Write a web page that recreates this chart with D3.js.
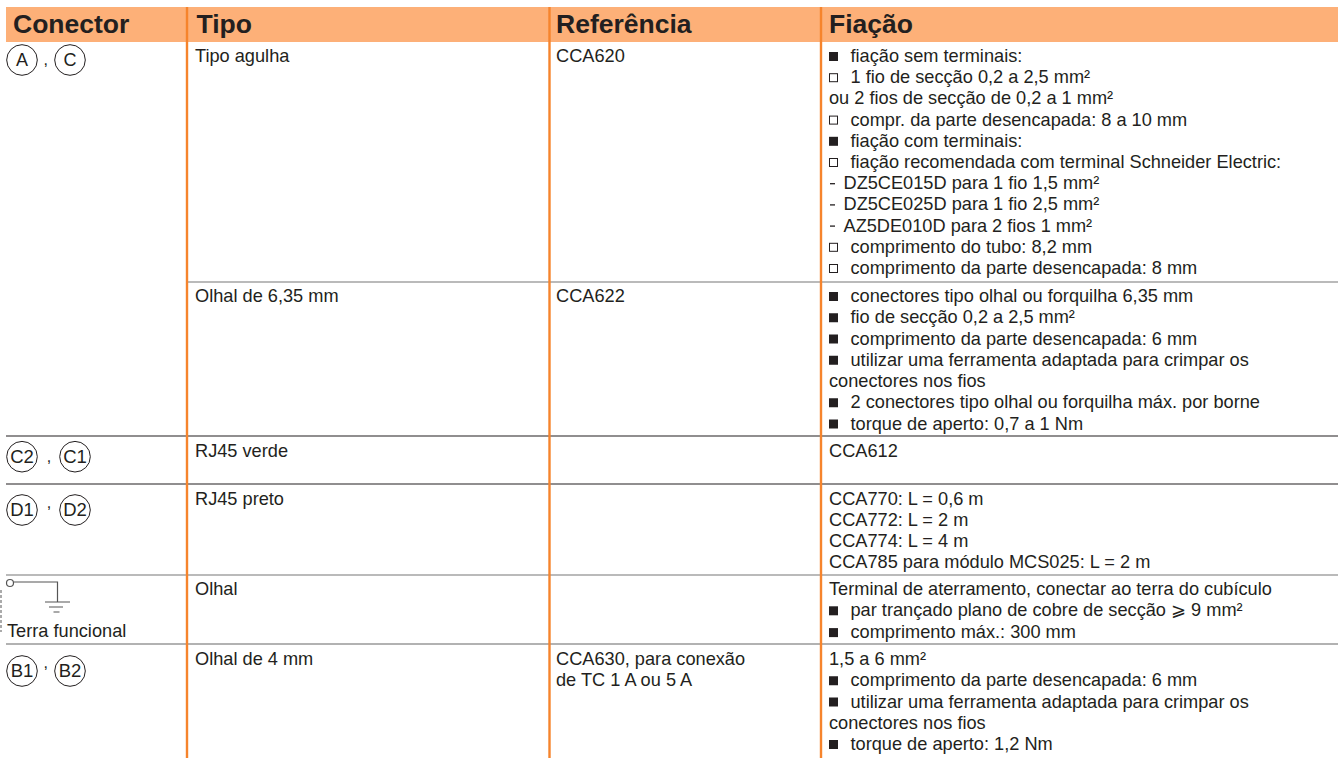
<!DOCTYPE html>
<html><head><meta charset="utf-8">
<script src="https://cdnjs.cloudflare.com/ajax/libs/d3/7.8.5/d3.min.js"></script>
<style>html,body{margin:0;padding:0;background:#fff;overflow:hidden}svg{display:block}text{font-family:"Liberation Sans",Arial,sans-serif;fill:#231f20}</style>
</head><body><svg id="c" width="1338" height="758"></svg>
<script>
const headers=["Conector","Tipo","Referência","Fiação"];
const connectors=[["A","C"],["C2","C1"],["D1","D2"],["B1","B2"]];
const groundLabel="Terra funcional";
const tipo=["Tipo agulha","Olhal de 6,35 mm","RJ45 verde","RJ45 preto","Olhal","Olhal de 4 mm"];
const referencia=[["CCA620"],["CCA622"],[],[],[],["CCA630, para conexão","de TC 1 A ou 5 A"]];
const fiacao=[
["■ fiação sem terminais:","□ 1 fio de secção 0,2 a 2,5 mm²","ou 2 fios de secção de 0,2 a 1 mm²","□ compr. da parte desencapada: 8 a 10 mm","■ fiação com terminais:","□ fiação recomendada com terminal Schneider Electric:","- DZ5CE015D para 1 fio 1,5 mm²","- DZ5CE025D para 1 fio 2,5 mm²","- AZ5DE010D para 2 fios 1 mm²","□ comprimento do tubo: 8,2 mm","□ comprimento da parte desencapada: 8 mm"],
["■ conectores tipo olhal ou forquilha 6,35 mm","■ fio de secção 0,2 a 2,5 mm²","■ comprimento da parte desencapada: 6 mm","■ utilizar uma ferramenta adaptada para crimpar os","conectores nos fios","■ 2 conectores tipo olhal ou forquilha máx. por borne","■ torque de aperto: 0,7 a 1 Nm"],
["CCA612"],
["CCA770: L = 0,6 m","CCA772: L = 2 m","CCA774: L = 4 m","CCA785 para módulo MCS025: L = 2 m"],
["Terminal de aterramento, conectar ao terra do cubículo","■ par trançado plano de cobre de secção ⩾ 9 mm²","■ comprimento máx.: 300 mm"],
["1,5 a 6 mm²","■ comprimento da parte desencapada: 6 mm","■ utilizar uma ferramenta adaptada para crimpar os","conectores nos fios","■ torque de aperto: 1,2 Nm"]];

// layout
const ink="#231f20", orange="#f6842c", FS=18.2;
const colX=d3.scaleOrdinal().domain([0,1,2,3]).range([6,195,556,829]);
const firstBase=[62,302,457,505,594.5,665], pitch=[21.2,21.25,21,20.9,21.8,21.25];
const rowY=(r,i)=>firstBase[r]+i*pitch[r];
const rules=[{y:282,x:188,c:"#777"},{y:436,x:6,c:ink},{y:484,x:6,c:ink},{y:575,x:6,c:"#777"},{y:644,x:6,c:"#666"}];
const conLayout=[{cy:60,x:[22,70],cm:45.7,cmy:65},{cy:456.7,x:[22,75],cm:49,cmy:462},{cy:510,x:[22,75],cm:49,cmy:508},{cy:671,x:[22,70],cm:45.7,cmy:668}];

const svg=d3.select("#c");
svg.append("rect").attr("x",6).attr("y",7).attr("width",1332).attr("height",35).attr("fill","#fdb078");
svg.selectAll(".h").data(headers).join("text").attr("class","h")
 .attr("x",(d,i)=>i==0?13:i==1?196.5:colX(i)).attr("y",33).attr("font-size",26.5).attr("font-weight","bold").text(d=>d);
svg.selectAll(".r").data(rules).join("line").attr("class","r")
 .attr("x1",d=>d.x).attr("x2",1338).attr("y1",d=>d.y).attr("y2",d=>d.y).attr("stroke",d=>d.c).attr("stroke-width",1.2);
svg.selectAll(".v").data([187,549.5,821]).join("line").attr("class","v")
 .attr("x1",d=>d).attr("x2",d=>d).attr("y1",7).attr("y2",758).attr("stroke",orange).attr("stroke-width",2.4);

function writeCol(arr,col){
 const flat=arr.flatMap((ls,r)=>ls.map((t,i)=>({t,r,i,m:t.match(/^([■□-])\s(.*)/)})));
 const g=svg.append("g");
 g.selectAll("text").data(flat).join("text")
  .attr("x",d=>!d.m?colX(col):d.m[1]=="-"?843.5:850.5)
  .attr("y",d=>rowY(d.r,d.i)).attr("font-size",FS)
  .text(d=>d.m?d.m[2]:d.t);
 g.selectAll("rect").data(flat.filter(d=>d.m&&d.m[1]!="-")).join("rect")
  .attr("x",d=>d.m[1]=="■"?829:829.5).attr("y",d=>rowY(d.r,d.i)-(d.m[1]=="■"?10:9.5))
  .attr("width",d=>d.m[1]=="■"?9:8).attr("height",d=>d.m[1]=="■"?9:8)
  .attr("fill",d=>d.m[1]=="■"?ink:"none").attr("stroke",d=>d.m[1]=="■"?"none":ink);
 g.selectAll("line").data(flat.filter(d=>d.m&&d.m[1]=="-")).join("line")
  .attr("x1",830).attr("x2",835).attr("y1",d=>rowY(d.r,d.i)-5.5).attr("y2",d=>rowY(d.r,d.i)-5.5).attr("stroke",ink).attr("stroke-width",1.3);
}
writeCol(tipo.map(d=>[d]),1);writeCol(referencia,2);writeCol(fiacao,3);

connectors.forEach((pair,i)=>{
 const L=conLayout[i], g=svg.append("g");
 g.selectAll("circle").data(pair).join("circle").attr("cx",(d,j)=>L.x[j]).attr("cy",L.cy).attr("r",15.3).attr("fill","#fff").attr("stroke",ink).attr("stroke-width",1);
 g.selectAll("text").data(pair).join("text").attr("x",(d,j)=>L.x[j]).attr("y",L.cy+6.3).attr("text-anchor","middle").attr("font-size",d=>d.length>1?18.5:18).text(d=>d);
 g.append("text").attr("x",L.cm).attr("y",L.cmy).attr("text-anchor","middle").attr("font-size",16).text(",");
});
// functional-earth symbol
svg.append("circle").attr("cx",10).attr("cy",583).attr("r",3.5).attr("fill","none").attr("stroke","#555").attr("stroke-width",1.2);
svg.append("path").attr("d","M14 582H57.5V602M45 602H70M49 607H63M53.5 612H59.5").attr("fill","none").attr("stroke","#555").attr("stroke-width",1.2);
svg.append("line").attr("x1",1).attr("x2",1).attr("y1",590).attr("y2",632).attr("stroke","#aaa").attr("stroke-width",2).attr("stroke-dasharray","3 2");
svg.append("text").attr("x",7).attr("y",637).attr("font-size",FS).text(groundLabel);
</script></body></html>
